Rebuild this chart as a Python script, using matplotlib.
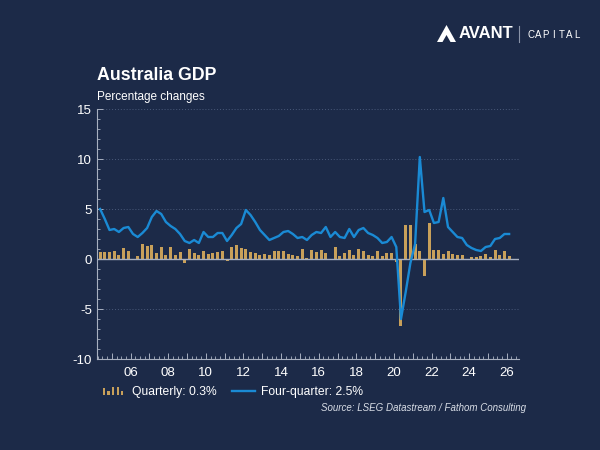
import numpy as np
import matplotlib
matplotlib.use('Agg')
import matplotlib.pyplot as plt
from matplotlib.container import BarContainer
from matplotlib.legend_handler import HandlerBase
from matplotlib.patches import Rectangle, Polygon
from matplotlib.lines import Line2D
from matplotlib.ticker import MultipleLocator, FuncFormatter

# quarterly data, 2004 Q2 to 2026 Q1
start_year = 2004
start_quarter = 2

quarterly = [
    0.7, 0.7, 0.7, 0.8, 0.4, 1.1, 0.8, 0.05, 0.3, 1.5,
    1.3, 1.4, 0.6, 1.2, 0.4, 1.2, 0.4, 0.7, -0.4, 1.0,
    0.6, 0.4, 0.8, 0.5, 0.6, 0.7, 0.8, -0.2, 1.2, 1.4,
    1.1, 1.0, 0.7, 0.6, 0.4, 0.5, 0.4, 0.8, 0.8, 0.8,
    0.5, 0.4, 0.3, 1.0, 0.15, 0.9, 0.7, 0.9, 0.6, 0.05,
    1.2, 0.3, 0.6, 0.9, 0.4, 1.0, 0.8, 0.4, 0.3, 0.8,
    0.3, 0.6, 0.6, -0.3, -6.7, 3.4, 3.4, 1.5, 0.8, -1.7,
    3.6, 0.9, 0.9, 0.5, 0.8, 0.5, 0.4, 0.4, 0.05, 0.2,
    0.2, 0.3, 0.5, 0.2, 0.9, 0.4, 0.8, 0.3,
]

four_quarter = [
    5.0, 4.0, 2.9, 3.0, 2.7, 3.1, 3.2, 2.5, 2.2, 2.6,
    3.1, 4.2, 4.8, 4.5, 3.7, 3.3, 3.0, 2.5, 1.8, 1.6,
    1.9, 1.6, 2.7, 2.2, 2.2, 2.6, 2.6, 1.8, 2.4, 3.1,
    3.5, 4.9, 4.4, 3.7, 2.9, 2.4, 1.9, 2.1, 2.3, 2.7,
    2.8, 2.5, 2.1, 2.2, 1.9, 2.4, 2.7, 2.6, 3.2, 2.2,
    2.7, 2.2, 2.1, 3.0, 2.2, 2.9, 3.1, 2.6, 2.4, 2.1,
    1.6, 1.7, 2.2, 1.2, -6.0, -3.3, -0.4, 1.5, 10.2, 4.7,
    4.9, 3.6, 3.7, 6.1, 3.2, 2.7, 2.2, 2.1, 1.4, 1.1,
    0.9, 0.8, 1.2, 1.3, 2.0, 2.1, 2.5, 2.5,
]

BG = '#1c2a48'
GOLD = '#c8a05a'
BLUE = '#1a8ad4'
AXIS = '#a8b0c0'
GRID = '#4a5a7a'

plt.rcParams['font.family'] = ['Liberation Sans', 'DejaVu Sans']
plt.rcParams['axes.unicode_minus'] = False

# mid-quarter positions in decimal years
qidx = np.arange(len(quarterly)) + (start_quarter - 1)
x = start_year + (qidx + 0.5) / 4


class HandlerBars(HandlerBase):
    def create_artists(self, legend, orig_handle, xdescent, ydescent,
                       width, height, fontsize, trans):
        shape = [0.85, 0.45, 1.0, 0.9, 0.45]
        step = width / len(shape)
        artists = []
        for i, h in enumerate(shape):
            r = Rectangle((-xdescent + i * step, -ydescent), step * 0.45,
                          height * h, facecolor=GOLD, edgecolor='none',
                          transform=trans)
            artists.append(r)
        return artists


fig = plt.figure(figsize=(6, 4.5), dpi=100, facecolor=BG)
ax = fig.add_axes([97 / 600, 1 - 359 / 450, 422 / 600, 250 / 450])
ax.set_facecolor(BG)

bars = ax.bar(x, quarterly, width=0.16, color=GOLD, zorder=2)
line, = ax.plot(x, four_quarter, color=BLUE, lw=1.7, zorder=3)
ax.axhline(0, color=AXIS, lw=1.0, zorder=2.5)

ax.set_xlim(2004.21, 2026.65)
ax.set_ylim(-10, 15)

ax.yaxis.set_major_locator(MultipleLocator(5))
ax.yaxis.set_minor_locator(MultipleLocator(1))
ax.xaxis.set_major_locator(MultipleLocator(1))
ax.xaxis.set_minor_locator(MultipleLocator(0.25))
ax.xaxis.set_major_formatter(FuncFormatter(
    lambda v, p: '%02d' % (int(round(v)) % 100) if int(round(v)) % 2 == 0 else ''))

ax.yaxis.grid(True, which='major', ls=(0, (1, 2)), color=GRID, lw=0.7)
ax.set_axisbelow(True)

for s in ['top', 'right']:
    ax.spines[s].set_visible(False)
for s in ['left', 'bottom']:
    ax.spines[s].set_color(AXIS)
    ax.spines[s].set_linewidth(0.8)

ax.tick_params(axis='both', which='both', direction='in', color=AXIS,
               labelcolor='white', labelsize=9.5)
ax.tick_params(axis='both', which='major', length=4, width=0.7)
ax.tick_params(axis='both', which='minor', length=2, width=0.6)
ax.tick_params(axis='x', which='major', pad=6)

fig.text(97 / 600, 1 - 76 / 450, 'Australia GDP', fontsize=12.8,
         weight='bold', color='white', va='center')
fig.text(97 / 600, 1 - 97 / 450, 'Percentage changes', fontsize=8.5,
         color='white', va='center')

leg = ax.legend(handles=[bars, line],
                labels=['Quarterly: %.1f%%' % quarterly[-1],
                        'Four-quarter: %.1f%%' % four_quarter[-1]],
                handler_map={BarContainer: HandlerBars()},
                loc='center left', bbox_to_anchor=(92 / 600, 1 - 392 / 450),
                bbox_transform=fig.transFigure, ncol=2, frameon=False,
                fontsize=8.7, labelcolor='white', handlelength=1.9,
                handletextpad=0.55, columnspacing=1.2)

fig.text(526 / 600, 1 - 408 / 450,
         'Source: LSEG Datastream / Fathom Consulting', fontsize=7,
         style='italic', color='#d8dde6', ha='right', va='center')

# logo
def px(xp, yp):
    return (xp / 600, 1 - yp / 450)

fig.patches.append(Polygon([px(437, 42), px(446.5, 25), px(456, 42)],
                           closed=True, facecolor='white', edgecolor='none',
                           transform=fig.transFigure))
fig.patches.append(Polygon([px(442.5, 42), px(446.5, 35), px(450.5, 42)],
                           closed=True, facecolor=BG, edgecolor='none',
                           transform=fig.transFigure))
fig.text(459 / 600, 1 - 34 / 450, 'AVANT', fontsize=12, weight='heavy',
         color='white', va='center')
fig.lines.append(Line2D([519 / 600, 519 / 600], [1 - 26 / 450, 1 - 42 / 450],
                        color='#8a94a8', lw=0.8, transform=fig.transFigure))
for i, ch in enumerate('CAPITAL'):
    fig.text((530.5 + i * 7.7) / 600, 1 - 34.5 / 450, ch, fontsize=7,
             color='white', va='center', ha='center')

fig.savefig('out.png', dpi=100, facecolor=BG)
